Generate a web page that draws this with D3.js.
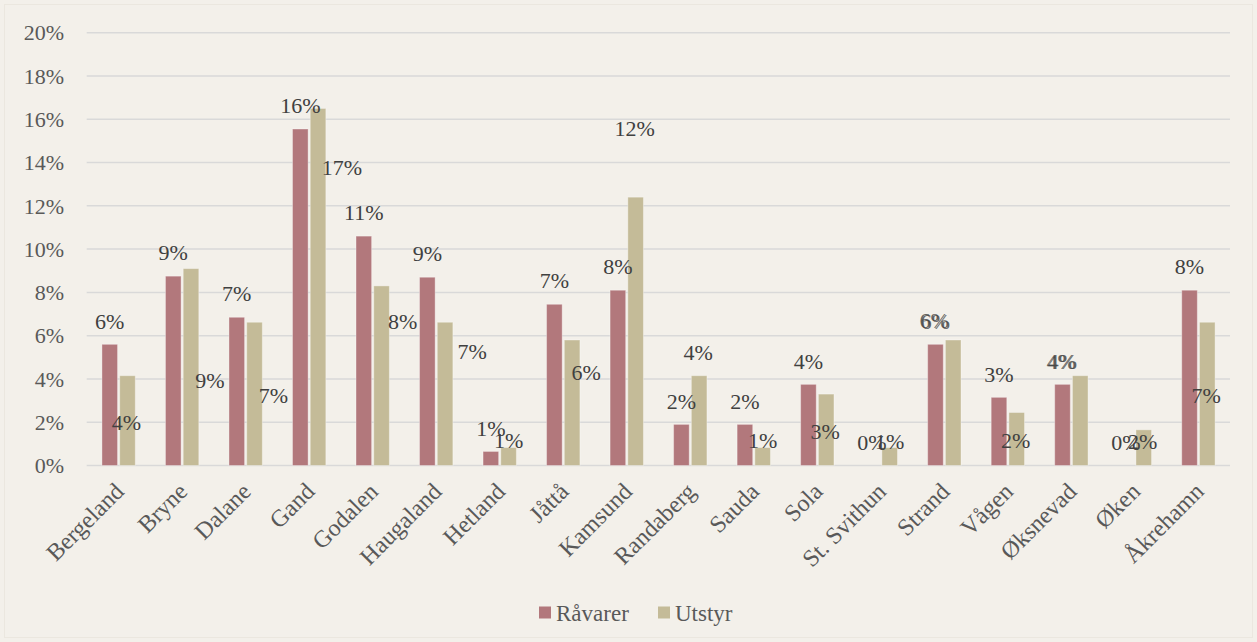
<!DOCTYPE html>
<html>
<head>
<meta charset="utf-8">
<script src="https://cdn.jsdelivr.net/npm/d3@7/dist/d3.min.js"></script>
<style>
  body { margin: 0; background: #f3f0ea; }
  svg { display: block; }
</style>
</head>
<body>
<div id="chart"></div>
<script>
// data (percent)
var categories = ["Bergeland","Bryne","Dalane","Gand","Godalen","Haugaland","Hetland","Jåttå","Kamsund","Randaberg","Sauda","Sola","St. Svithun","Strand","Vågen","Øksnevad","Øken","Åkrehamn"];
var seriesNames = ["Råvarer","Utstyr"];
var ravarer = [5.6, 8.75, 6.85, 15.55, 10.6, 8.7, 0.65, 7.45, 8.1, 1.9, 1.9, 3.75, 0, 5.6, 3.15, 3.75, 0, 8.1];
var utstyr  = [4.15, 9.1, 6.62, 16.5, 8.3, 6.62, 0.83, 5.8, 12.4, 4.15, 0.83, 3.3, 0.83, 5.8, 2.45, 4.15, 1.65, 6.62];
// where the Utstyr labels sit (percent value of label centre) and sideways shift
var utstyrLabelAt = [1.98, 3.95, 3.23, 13.77, 6.68, 5.3, 1.15, 4.29, 15.6, 5.21, 1.15, 1.59, 1.13, 6.69, 1.18, 4.83, 1.13, 3.23];
var utstyrLabelShift = [-1, 19, 19, 24, 21, 27, 0, 14, -1, -1, 0, -1, 0, -19, -1, -19, -1, -1];
var yTicks = [0, 2, 4, 6, 8, 10, 12, 14, 16, 18, 20];

var colors = ["#b2787c", "#c4bb98"];

var width = 1257, height = 642;
var margin = {top: 32.7, right: 27, bottom: 176.5, left: 86.7};

var svg = d3.select("#chart").append("svg")
  .attr("width", width)
  .attr("height", height);

svg.append("rect")
  .attr("x", 4.5).attr("y", 4.5)
  .attr("width", width - 9).attr("height", height - 9)
  .attr("fill", "#f3f0ea")
  .attr("stroke", "#ebe7df");

var y = d3.scaleLinear()
  .domain([0, 20])
  .range([height - margin.bottom, margin.top]);

var x0 = d3.scaleBand()
  .domain(categories)
  .range([margin.left, width - margin.right])
  .padding(0);

var x1 = d3.scaleBand()
  .domain(seriesNames)
  .range([x0.bandwidth() * 0.24, x0.bandwidth() * 0.765])
  .paddingInner(0.12);

var font = "'Liberation Serif', 'Times New Roman', serif";

// grid + y tick labels
svg.append("g").selectAll("line")
  .data(yTicks)
  .enter().append("line")
  .attr("x1", margin.left)
  .attr("x2", width - margin.right)
  .attr("y1", function(d){ return y(d); })
  .attr("y2", function(d){ return y(d); })
  .attr("stroke", "#d9d9d9")
  .attr("stroke-width", 1.5);

svg.append("g").selectAll("text")
  .data(yTicks)
  .enter().append("text")
  .attr("x", 64)
  .attr("y", function(d){ return y(d); })
  .attr("dy", "0.35em")
  .attr("text-anchor", "end")
  .attr("font-family", font)
  .attr("font-size", "22px")
  .attr("fill", "#595959")
  .text(function(d){ return d + "%"; });

// bars
var rows = categories.map(function(c, i) {
  return {cat: c, i: i, values: [ravarer[i], utstyr[i]]};
});

var groups = svg.append("g").selectAll("g")
  .data(rows)
  .enter().append("g")
  .attr("transform", function(d){ return "translate(" + x0(d.cat) + ",0)"; });

groups.selectAll("rect")
  .data(function(d){ return d.values.map(function(v, k){ return {s: seriesNames[k], v: v, k: k}; }); })
  .enter().append("rect")
  .filter(function(d){ return d.v > 0; })
  .attr("x", function(d){ return x1(d.s); })
  .attr("width", x1.bandwidth())
  .attr("y", function(d){ return y(d.v); })
  .attr("height", function(d){ return y(0) - y(d.v); })
  .attr("fill", function(d){ return colors[d.k]; })
  .attr("stroke", "rgba(255,255,255,0.35)")
  .attr("stroke-width", 1);

// labels that land on the same spot (Strand, Øksnevad) are drawn lighter so the pair reads as one
function stacked(d) { return utstyrLabelShift[d.i] < -10; }

// Råvarer labels above the bars
groups.append("text")
  .attr("x", x1("Råvarer") + x1.bandwidth() / 2)
  .attr("y", function(d){ return y(d.values[0]) - 23.5; })
  .attr("dy", "0.35em")
  .attr("text-anchor", "middle")
  .attr("font-family", font)
  .attr("font-size", "22px")
  .attr("fill", "#404040")
  .attr("fill-opacity", function(d){ return stacked(d) ? 0.78 : 1; })
  .text(function(d){ return Math.round(d.values[0]) + "%"; });

// Utstyr labels
groups.append("text")
  .attr("x", function(d){ return x1("Utstyr") + x1.bandwidth() / 2 + utstyrLabelShift[d.i]; })
  .attr("y", function(d){ return y(utstyrLabelAt[d.i]); })
  .attr("dy", "0.35em")
  .attr("text-anchor", "middle")
  .attr("font-family", font)
  .attr("font-size", "22px")
  .attr("fill", "#404040")
  .attr("fill-opacity", function(d){ return stacked(d) ? 0.78 : 1; })
  .text(function(d){ return Math.round(d.values[1]) + "%"; });

// category labels
svg.append("g").selectAll("text")
  .data(categories)
  .enter().append("text")
  .attr("transform", function(d){ return "translate(" + (x0(d) + x0.bandwidth() / 2 - 5) + "," + 481 + ") rotate(-45)"; })
  .attr("dy", "0.7em")
  .attr("text-anchor", "end")
  .attr("font-family", font)
  .attr("font-size", "24px")
  .attr("fill", "#595959")
  .text(function(d){ return d; });

// legend
var legendX = [539, 658];
var legend = svg.append("g").selectAll("g")
  .data(seriesNames)
  .enter().append("g")
  .attr("transform", function(d, i){ return "translate(" + legendX[i] + ",606.5)"; });

legend.append("rect")
  .attr("width", 12).attr("height", 12)
  .attr("fill", function(d, i){ return colors[i]; });

legend.append("text")
  .attr("x", 17)
  .attr("y", 6)
  .attr("dy", "0.35em")
  .attr("font-family", font)
  .attr("font-size", "23px")
  .attr("fill", "#595959")
  .text(function(d){ return d; });
</script>
</body>
</html>
